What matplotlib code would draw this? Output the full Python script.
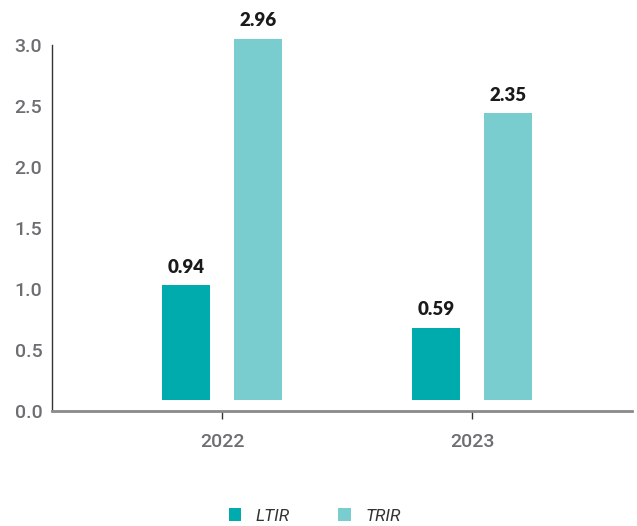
import matplotlib
matplotlib.use("Agg")
import matplotlib.pyplot as plt
from matplotlib.patches import Patch
import numpy as np

years = ["2022", "2023"]
ltir = [0.94, 0.59]
trir = [2.96, 2.35]
series_names = ["LTIR", "TRIR"]
y_ticks = [0.0, 0.5, 1.0, 1.5, 2.0, 2.5, 3.0]

dark_teal = "#00ABAD"
light_teal = "#7ACDCF"
base = 0.09  # bars float slightly above the baseline

plt.rcParams["font.family"] = ["Roboto", "DejaVu Sans"]

fig = plt.figure(figsize=(6.37, 5.26), dpi=100)
ax = fig.add_axes([52 / 637, 1 - 411 / 526, 580 / 637, (411 - 45) / 526])

x = np.arange(len(years))
w = 0.192
off = 0.144

b1 = ax.bar(x - off, ltir, width=w, bottom=base, color=dark_teal, clip_on=False, zorder=3)
b2 = ax.bar(x + off, trir, width=w, bottom=base, color=light_teal, clip_on=False, zorder=3)

for bars, vals in ((b1, ltir), (b2, trir)):
    for rect, v in zip(bars, vals):
        ax.annotate(f"{v:.2f}", (rect.get_x() + rect.get_width() / 2, base + v),
                    xytext=(0, 7), textcoords="offset points", ha="center", va="bottom",
                    fontsize=13.5, fontweight="heavy", color="#1a1a1a",
                    family=["Lato", "DejaVu Sans"], annotation_clip=False)

ax.set_xlim(-0.68, 1.64)
ax.set_ylim(0, 3.0)
ax.set_yticks(y_ticks)
ax.set_yticklabels([f"{t:.1f}" for t in y_ticks])
ax.set_xticks(x)
ax.set_xticklabels(years)
for lab in ax.get_xticklabels() + ax.get_yticklabels():
    lab.set_fontweight("medium")

ax.spines["top"].set_visible(False)
ax.spines["right"].set_visible(False)
ax.spines["left"].set_color("#333333")
ax.spines["left"].set_linewidth(1.0)
ax.spines["bottom"].set_color("#8a8a8a")
ax.spines["bottom"].set_linewidth(2.0)

ax.tick_params(axis="y", length=0, pad=7, labelsize=14, labelcolor="#6d6e71")
ax.tick_params(axis="x", length=6, width=1, color="#333333", pad=10,
               labelsize=14, labelcolor="#6d6e71")

handles = [Patch(facecolor=dark_teal, edgecolor="none"),
           Patch(facecolor=light_teal, edgecolor="none")]
fig.legend(handles, series_names, loc="center", bbox_to_anchor=(0.494, 1 - 516 / 526),
           ncol=2, frameon=False, handlelength=0.7, handleheight=0.7,
           handletextpad=0.85, columnspacing=2.8,
           prop={"style": "italic", "size": 12.5}, labelcolor="#333333")

fig.savefig("out.png", dpi=100)
